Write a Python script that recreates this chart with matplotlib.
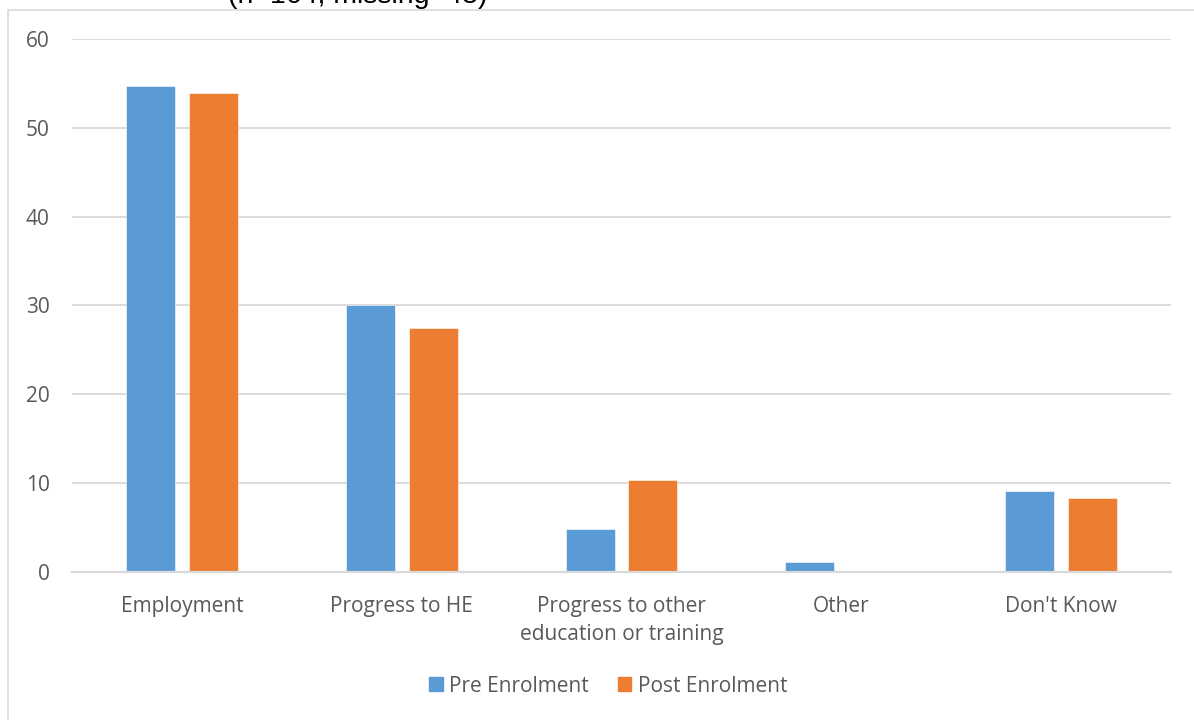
import matplotlib.pyplot as plt
from matplotlib.patches import Rectangle, Patch
import numpy as np

# --- Datos ---
categories = ["Employment", "Progress to HE", "Progress to other\neducation or training",
              "Other", "Don't Know"]
pre_enrolment = [54.7, 30.1, 4.8, 1.1, 9.1]
post_enrolment = [53.9, 27.5, 10.4, 0.0, 8.3]
series_names = ["Pre Enrolment", "Post Enrolment"]
title_text = "(n=164, missing=43)"

blue = "#5b9bd5"
orange = "#ed7d31"
grid_c = "#d9d9d9"
text_c = "#595959"
font = ["Open Sans", "DejaVu Sans"]

plt.rcParams['font.family'] = font

fig = plt.figure(figsize=(11.94, 7.2), dpi=100)
W, H = 1194, 720

# marco del gráfico (recortado por la derecha y abajo)
fig.patches.append(Rectangle((8 / W, -0.05), 1.2, 1 - 10 / H + 0.05,
                             transform=fig.transFigure, fill=False,
                             edgecolor=grid_c, linewidth=1.2))

ax = fig.add_axes([72 / W, 1 - 572 / H, (1171 - 72) / W, (572 - 39) / H])

x = np.arange(len(categories))
w = 0.223
off = 0.143
ax.bar(x - off, pre_enrolment, w, color=blue, edgecolor="white", linewidth=0.4, zorder=3)
ax.bar(x + off, post_enrolment, w, color=orange, edgecolor="white", linewidth=0.4, zorder=3)

ax.set_xlim(-0.5, len(categories) - 0.5)
ax.set_ylim(0, 60)
ax.set_yticks(range(0, 61, 10))
ax.set_xticks(x)
ax.set_xticklabels(categories, fontsize=15, color=text_c, linespacing=1.45)
ax.tick_params(axis='y', labelsize=15, labelcolor=text_c, length=0, pad=16)
ax.tick_params(axis='x', length=0, pad=17)

ax.grid(axis='y', color=grid_c, linewidth=1.3, zorder=0)
ax.set_axisbelow(True)
for s in ["top", "right", "left"]:
    ax.spines[s].set_visible(False)
ax.spines["bottom"].set_color(grid_c)
ax.spines["bottom"].set_linewidth(1.6)
ax.spines["bottom"].set_zorder(4)

# título cortado arriba (como en la referencia)
fig.text(228 / W, 1 - 3 / H, title_text, ha='left', va='baseline',
         fontsize=20.5, color="black", family=["Liberation Sans", "DejaVu Sans"])

handles = [Patch(color=blue, label=series_names[0]),
           Patch(color=orange, label=series_names[1])]
leg = fig.legend(handles=handles, loc='center', bbox_to_anchor=(608 / W, 1 - 686 / H),
                 ncol=2, frameon=False, fontsize=15, handlelength=0.65,
                 handleheight=0.65, handletextpad=0.3, columnspacing=1.4)
for t in leg.get_texts():
    t.set_color(text_c)

fig.savefig("out.png", dpi=100)
